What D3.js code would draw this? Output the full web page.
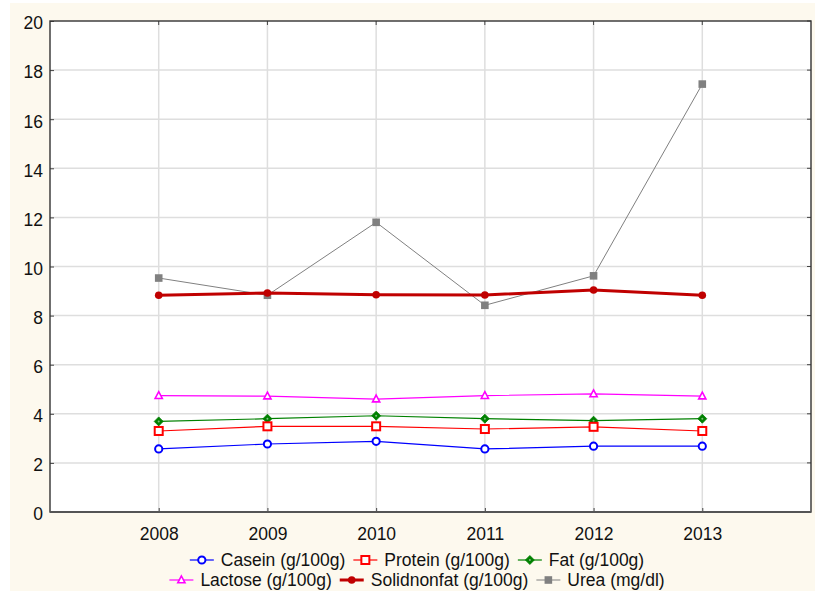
<!DOCTYPE html>
<html>
<head>
<meta charset="utf-8">
<script src="https://cdn.jsdelivr.net/npm/d3@7"></script>
<style>
  html, body { margin: 0; padding: 0; background: #ffffff; }
  svg { display: block; }
  text { font-family: "Liberation Sans", Arial, sans-serif; fill: #111; }
</style>
</head>
<body>
<svg id="chart" width="815" height="591"></svg>
<script>
// Milk composition by year
const years = [2008, 2009, 2010, 2011, 2012, 2013];
const casein = [2.57, 2.77, 2.88, 2.57, 2.68, 2.68];
const protein = [3.30, 3.49, 3.49, 3.38, 3.47, 3.30];
const fat = [3.69, 3.80, 3.92, 3.80, 3.72, 3.80];
const lactose = [4.74, 4.72, 4.60, 4.74, 4.81, 4.72];
const solidnonfat = [8.83, 8.92, 8.85, 8.84, 9.04, 8.83];
const urea = [9.53, 8.83, 11.80, 8.42, 9.62, 17.43];
const yTicks = [0, 2, 4, 6, 8, 10, 12, 14, 16, 18, 20];

const series = [
  { name: "Casein (g/100g)", values: casein, color: "#0000ff", width: 1.2, marker: "circle" },
  { name: "Protein (g/100g)", values: protein, color: "#ff0000", width: 1.2, marker: "square" },
  { name: "Fat (g/100g)", values: fat, color: "#008000", width: 1.2, marker: "diamond" },
  { name: "Lactose (g/100g)", values: lactose, color: "#ff00ff", width: 1.2, marker: "triangle" },
  { name: "Solidnonfat (g/100g)", values: solidnonfat, color: "#c00000", width: 3, marker: "dot" },
  { name: "Urea (mg/dl)", values: urea, color: "#808080", width: 1, marker: "fsquare" }
];

const svg = d3.select("#chart");
const W = 815, H = 591;
const plot = { left: 50, top: 21, right: 811, bottom: 512 };

// cream page panel
svg.append("rect").attr("x", 10).attr("y", 3).attr("width", W - 10).attr("height", H - 3)
  .attr("fill", "#fdf9ee");

// white plotting area
svg.append("rect").attr("x", plot.left).attr("y", plot.top)
  .attr("width", plot.right - plot.left).attr("height", plot.bottom - plot.top)
  .attr("fill", "#ffffff");

const x = d3.scaleLinear().domain([2007, 2014]).range([plot.left, plot.right]);
const y = d3.scaleLinear().domain([0, 20]).range([plot.bottom, plot.top]);

// grid
const grid = svg.append("g").attr("stroke", "#dedede").attr("stroke-width", 1.5);
grid.selectAll("line.h").data(yTicks.filter(t => t > 0 && t < 20)).join("line")
  .attr("x1", plot.left).attr("x2", plot.right)
  .attr("y1", d => y(d)).attr("y2", d => y(d));
grid.selectAll("line.v").data(years).join("line")
  .attr("y1", plot.top).attr("y2", plot.bottom)
  .attr("x1", d => x(d)).attr("x2", d => x(d));

// axes with inward ticks
const yAxis = d3.axisLeft(y).tickValues(yTicks).tickSize(-4).tickPadding(7).tickFormat(d3.format("d"));
const gy = svg.append("g").attr("transform", `translate(${plot.left},0)`).call(yAxis);
gy.select(".domain").remove();
gy.selectAll(".tick line").attr("stroke", "#444");
gy.selectAll(".tick text").attr("font-size", 17.5).attr("dy", "0.45em")
  .attr("font-family", "Liberation Sans, Arial, sans-serif").attr("fill", "#111");

const xAxis = d3.axisBottom(x).tickValues(years).tickSize(-4).tickPadding(16).tickFormat(d3.format("d"));
const gx = svg.append("g").attr("transform", `translate(0,${plot.bottom})`).call(xAxis);
gx.select(".domain").remove();
gx.selectAll(".tick line").attr("stroke", "#444");
gx.selectAll(".tick text").attr("font-size", 17.5)
  .attr("font-family", "Liberation Sans, Arial, sans-serif").attr("fill", "#111");

// ticks on the top and right edges
svg.append("g").selectAll("line").data(years).join("line")
  .attr("x1", d => x(d)).attr("x2", d => x(d))
  .attr("y1", plot.top).attr("y2", plot.top + 4).attr("stroke", "#444");
svg.append("g").selectAll("line").data(yTicks).join("line")
  .attr("x1", plot.right).attr("x2", plot.right - 4)
  .attr("y1", d => y(d)).attr("y2", d => y(d)).attr("stroke", "#444");

// frame
svg.append("rect").attr("x", plot.left).attr("y", plot.top)
  .attr("width", plot.right - plot.left).attr("height", plot.bottom - plot.top)
  .attr("fill", "none").attr("stroke", "#333").attr("stroke-width", 1.4);
svg.append("line").attr("x1", plot.left).attr("x2", plot.right)
  .attr("y1", plot.bottom).attr("y2", plot.bottom)
  .attr("stroke", "#555").attr("stroke-width", 2);

function drawMarker(g, type, color) {
  if (type === "circle") {
    g.append("circle").attr("r", 3.6).attr("fill", "#fff").attr("stroke", color).attr("stroke-width", 2);
  } else if (type === "square") {
    g.append("rect").attr("x", -4).attr("y", -4).attr("width", 8).attr("height", 8)
      .attr("fill", "#fff").attr("stroke", color).attr("stroke-width", 2);
  } else if (type === "diamond") {
    g.append("path").attr("d", "M0,-4.5L4.5,0L0,4.5L-4.5,0Z").attr("fill", color).attr("stroke", color).attr("stroke-width", 0.8);
    g.append("circle").attr("r", 1).attr("fill", "#7fbf7f");
  } else if (type === "triangle") {
    g.append("path").attr("d", "M0,-4L3.6,2.8L-3.6,2.8Z").attr("fill", "#fff").attr("stroke", color).attr("stroke-width", 1.6);
  } else if (type === "dot") {
    g.append("circle").attr("r", 3.8).attr("fill", color);
  } else if (type === "fsquare") {
    g.append("rect").attr("x", -3.8).attr("y", -3.8).attr("width", 7.6).attr("height", 7.6).attr("fill", color);
  }
}

const line = d3.line().x((d, i) => x(years[i])).y(d => y(d));
// draw in reverse order so casein ends up on top, urea at the back
[...series].reverse().forEach(s => {
  const g = svg.append("g");
  g.append("path").datum(s.values).attr("d", line)
    .attr("fill", "none").attr("stroke", s.color).attr("stroke-width", s.width);
  s.values.forEach((v, i) => {
    const m = g.append("g").attr("transform", `translate(${x(years[i])},${y(v)})`);
    drawMarker(m, s.marker, s.color);
  });
});

// legend: two centered rows
const rows = [series.slice(0, 3), series.slice(3)];
const rowY = [560, 580];
const legendCenter = 417;
rows.forEach((items, r) => {
  const g = svg.append("g");
  let cx = 0;
  items.forEach(s => {
    const it = g.append("g").attr("transform", `translate(${cx},${rowY[r]})`);
    it.append("line").attr("x1", 0).attr("x2", 24).attr("y1", 0).attr("y2", 0)
      .attr("stroke", s.color).attr("stroke-width", s.width);
    drawMarker(it.append("g").attr("transform", "translate(12,0)"), s.marker, s.color);
    const t = it.append("text").attr("x", 31).attr("y", 6).attr("font-size", 17.5).text(s.name);
    cx += 31 + t.node().getComputedTextLength() + 8;
  });
  const total = cx - 8;
  g.attr("transform", `translate(${legendCenter - total / 2},0)`);
});
</script>
</body>
</html>
